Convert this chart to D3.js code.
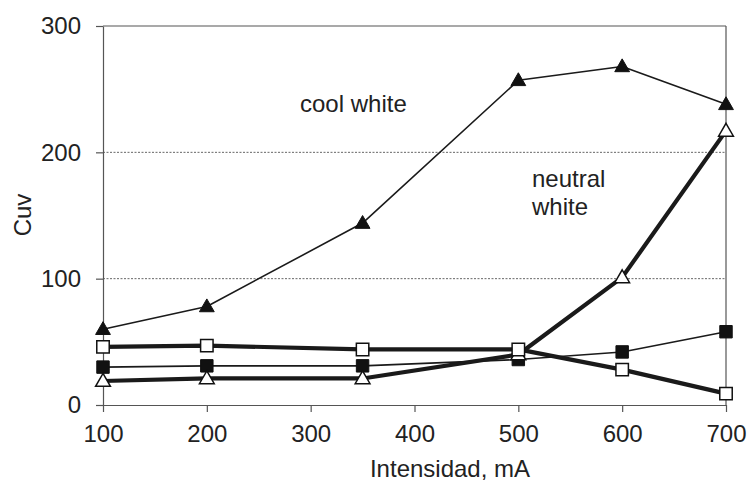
<!DOCTYPE html>
<html><head><meta charset="utf-8">
<script src="https://cdn.jsdelivr.net/npm/d3@7"></script>
<style>html,body{margin:0;padding:0;background:#fff;}svg{display:block;}text{font-family:"Liberation Sans",Arial,sans-serif;fill:#222;}</style>
</head><body><svg id="c" width="749" height="482"></svg>
<script>
const xValues = [100, 200, 350, 500, 600, 700];
const coolTriangle = [60, 78, 144, 257, 268, 238];
const neutralTriangle = [19, 21, 21, 40, 101, 217];
const coolSquare = [30, 31, 31, 36, 42, 58];
const neutralSquare = [46, 47, 44, 44, 28, 9];
const xTicks = [100, 200, 300, 400, 500, 600, 700];
const yTicks = [0, 100, 200, 300];
const xTitle = "Intensidad, mA";
const yTitle = "Cuv";
const coolLabel = ["cool white"];
const neutralLabel = ["neutral", "white"];

const svg = d3.select("#c");
const L = 103, R = 726, T = 26, B = 405;
const x = d3.scaleLinear().domain([100, 700]).range([L, R]);
const y = d3.scaleLinear().domain([0, 300]).range([B, T]);
const axisColor = "#555";

// gridlines
svg.append("g").selectAll("line").data([100, 200]).join("line")
  .attr("x1", L).attr("x2", R).attr("y1", d => y(d)).attr("y2", d => y(d))
  .attr("stroke", "#666").attr("stroke-width", 1).attr("stroke-dasharray", "2,1.5");

// frame top & right
svg.append("line").attr("x1", L).attr("x2", R).attr("y1", T).attr("y2", T).attr("stroke", axisColor).attr("stroke-width", 1.2);
svg.append("line").attr("x1", R).attr("x2", R).attr("y1", T).attr("y2", B).attr("stroke", axisColor).attr("stroke-width", 1.2);

const yAxis = svg.append("g").attr("transform", `translate(${L},0)`)
  .call(d3.axisLeft(y).tickValues(yTicks).tickSize(7).tickPadding(15).tickSizeOuter(0));
const xAxis = svg.append("g").attr("transform", `translate(0,${B})`)
  .call(d3.axisBottom(x).tickValues(xTicks).tickSize(7).tickPadding(13).tickSizeOuter(0));
[xAxis, yAxis].forEach(a => {
  a.select(".domain").attr("stroke", axisColor).attr("stroke-width", 1.2);
  a.selectAll(".tick line").attr("stroke", axisColor).attr("stroke-width", 1.2);
  a.selectAll(".tick text").style("font-size", "24px").attr("fill", "#222");
});

const line = vals => d3.line().x((d, i) => x(xValues[i])).y(d => y(d))(vals);
const series = [
  {vals: coolSquare, w: 1.6, shape: "square", fill: "#111"},
  {vals: coolTriangle, w: 1.6, shape: "triangle", fill: "#111"},
  {vals: neutralTriangle, w: 4.2, shape: "triangle", fill: "#fff"},
  {vals: neutralSquare, w: 4.2, shape: "square", fill: "#fff"},
];
series.forEach(s => {
  svg.append("path").attr("d", line(s.vals)).attr("fill", "none")
    .attr("stroke", "#1a1a1a").attr("stroke-width", s.w).attr("stroke-linejoin", "round");
});
series.forEach(s => {
  const sym = d3.symbol().type(s.shape === "square" ? d3.symbolSquare : d3.symbolTriangle)
    .size(s.shape === "square" ? 155 : 95);
  svg.append("g").selectAll("path").data(s.vals).join("path")
    .attr("d", sym)
    .attr("transform", (d, i) => `translate(${x(xValues[i])},${y(d) + (s.shape === "triangle" ? 1 : 0)})`)
    .attr("fill", s.fill).attr("stroke", "#111").attr("stroke-width", s.fill === "#fff" ? 1.5 : 1);
});

svg.append("text").attr("x", 450).attr("y", 477).attr("text-anchor", "middle").style("font-size", "24px").text(xTitle);
svg.append("text").attr("transform", "translate(31,215) rotate(-90)").attr("text-anchor", "middle").style("font-size", "24px").text(yTitle);

svg.append("text").attr("x", 300).attr("y", 112).style("font-size", "24px").text(coolLabel[0]);
const nw = svg.append("text").style("font-size", "24px");
neutralLabel.forEach((t, i) => nw.append("tspan").attr("x", 532).attr("y", 187 + i * 28).text(t));
</script></body></html>
